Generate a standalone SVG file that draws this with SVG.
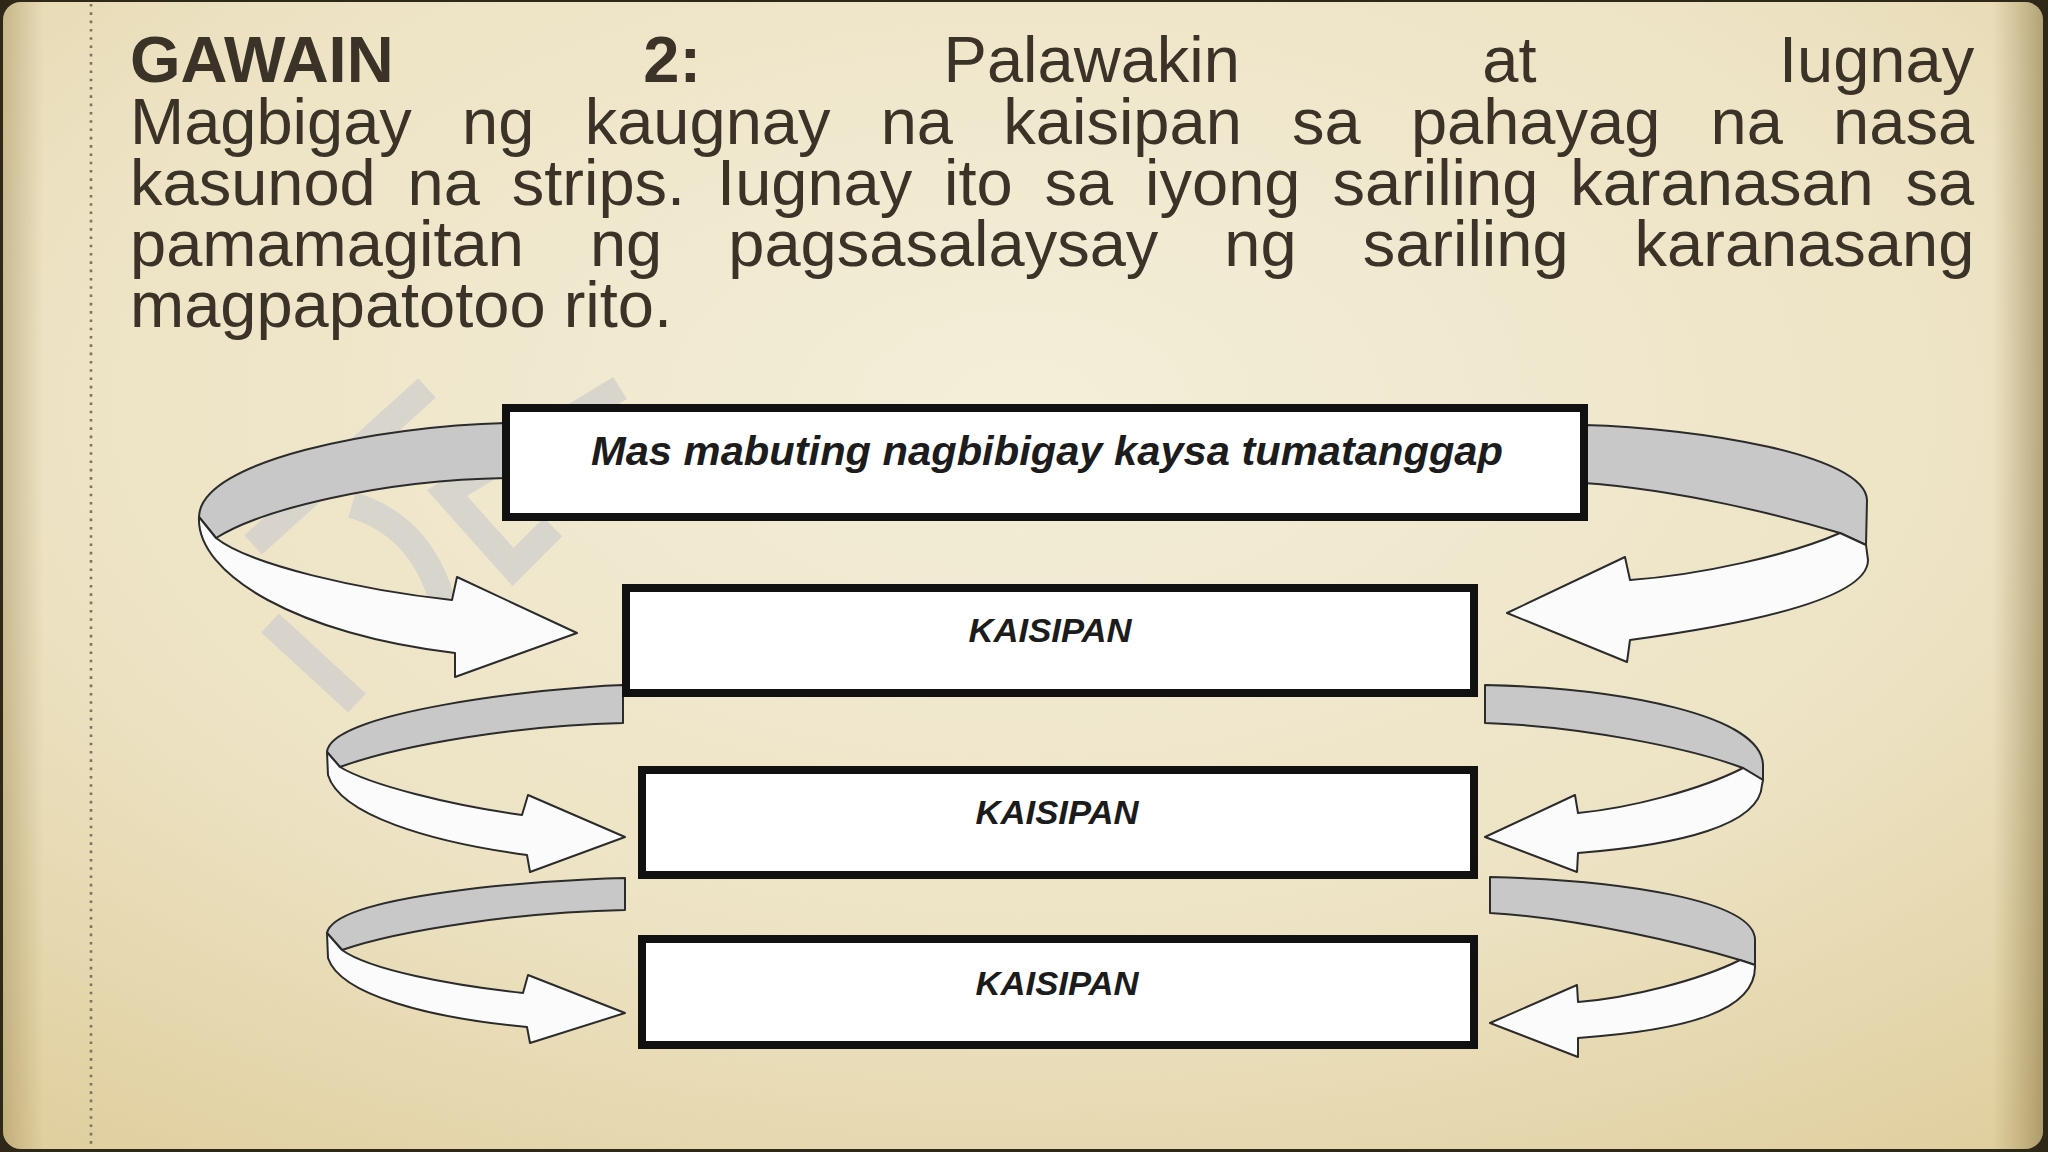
<svg xmlns="http://www.w3.org/2000/svg" width="2048" height="1152" viewBox="0 0 2048 1152">
<defs>
<radialGradient id="pg" cx="50%" cy="35%" r="80%">
<stop offset="0" stop-color="#f4eed9"/>
<stop offset="0.6" stop-color="#ede3c4"/>
<stop offset="1" stop-color="#e0cf9f"/>
</radialGradient>
<linearGradient id="edge" x1="0" y1="0" x2="1" y2="0">
<stop offset="0" stop-color="#8a7236" stop-opacity="0.35"/>
<stop offset="0.02" stop-color="#8a7236" stop-opacity="0"/>
<stop offset="0.975" stop-color="#8a7236" stop-opacity="0"/>
<stop offset="1" stop-color="#6e5a26" stop-opacity="0.45"/>
</linearGradient>
</defs>
<style>
.body{font-family:"Liberation Sans",Arial,sans-serif;font-size:65px;fill:#3b3327}
.b{font-weight:bold}
.box{fill:#ffffff;stroke:#111111;stroke-width:8}
.lbl{font-family:"Liberation Sans",Arial,sans-serif;font-weight:bold;font-style:italic;fill:#1c1c1c}
.back{fill:#c8c8c8;stroke:#2b2b2b;stroke-width:2;stroke-linejoin:round}
.front{fill:#fbfbfb;stroke:#2b2b2b;stroke-width:2;stroke-linejoin:round}
.wm{fill:none;stroke:#d3d1cc;stroke-width:26;opacity:0.85}
</style>
<g id="background">
<rect x="0" y="0" width="2048" height="1152" fill="#2e2818"/>
<rect x="3" y="2" width="2040" height="1147" rx="18" fill="url(#pg)"/>
<rect x="3" y="2" width="2040" height="1147" rx="18" fill="url(#edge)"/>
<line x1="91" y1="4" x2="91" y2="1148" stroke="#7d735e" stroke-width="2.6" stroke-dasharray="2.6 5.7"/>
</g>
<g id="instructions" class="body">
<text y="82"><tspan class="b" x="130">GAWAIN</tspan><tspan class="b" x="643.3">2:</tspan><tspan x="943.6">Palawakin</tspan><tspan x="1482.3">at</tspan><tspan x="1779">Iugnay</tspan></text>
<text y="144"><tspan x="130">Magbigay</tspan><tspan x="462.1">ng</tspan><tspan x="584.7">kaugnay</tspan><tspan x="880.7">na</tspan><tspan x="1003.3">kaisipan</tspan><tspan x="1292">sa</tspan><tspan x="1410.9">pahayag</tspan><tspan x="1710.5">na</tspan><tspan x="1833.1">nasa</tspan></text>
<text y="205"><tspan x="130">kasunod</tspan><tspan x="407.6">na</tspan><tspan x="511.8">strips.</tspan><tspan x="717.1">Iugnay</tspan><tspan x="944.1">ito</tspan><tspan x="1044.6">sa</tspan><tspan x="1145.1">iyong</tspan><tspan x="1332.4">sariling</tspan><tspan x="1570.2">karanasan</tspan><tspan x="1905.6">sa</tspan></text>
<text y="266"><tspan x="130">pamamagitan</tspan><tspan x="589.9">ng</tspan><tspan x="728.3">pagsasalaysay</tspan><tspan x="1224.3">ng</tspan><tspan x="1362.7">sariling</tspan><tspan x="1634.6">karanasang</tspan></text>
<text y="327" x="130">magpapatotoo rito.</text>
</g>
<g id="watermark">
<path class="wm" d="M427,388 L253,545"/>
<path class="wm" d="M352,505 Q420,525 442,600"/>
<path class="wm" d="M270,623 L357,703"/>
<path class="wm" d="M620,388 L447,493 L513,567 L553,527"/>
</g>
<g id="connectors">
<path class="back" d="M506,423 C380,426 200,460 199,517 L216,538 C260,510 380,480 506,478 Z"/>
<path class="front" d="M199,517 C196,575 300,635 455,653 L455,677 L577,633 L457,577 L452,600 C360,590 250,565 216,538 Z"/>
<path class="back" d="M1584,425 C1700,428 1865,455 1867,500 L1866,545 L1840,533 C1780,515 1680,490 1584,483 Z"/>
<path class="front" d="M1840,533 C1790,555 1700,575 1630,580 L1625,557 L1507,613 L1627,662 L1630,640 C1740,625 1868,600 1868,560 L1866,545 Z"/>
<path class="back" d="M623,685 C540,688 330,712 327,752 L340,767 C400,745 520,725 623,723 Z"/>
<path class="front" d="M327,752 L328,775 C340,815 430,842 527,855 L530,872 L625,837 L528,795 L522,815 C450,805 370,785 340,767 Z"/>
<path class="back" d="M625,878 C540,880 335,895 327,933 L342,950 C400,930 520,912 625,910 Z"/>
<path class="front" d="M327,933 L328,958 C340,995 430,1018 527,1027 L530,1043 L625,1013 L528,975 L523,993 C450,985 370,970 342,950 Z"/>
<path class="back" d="M1485,685 C1620,688 1762,715 1763,765 L1763,780 L1743,768 C1690,748 1580,726 1485,723 Z"/>
<path class="front" d="M1743,768 C1700,790 1630,808 1578,813 L1575,795 L1485,837 L1577,872 L1578,853 C1680,845 1760,825 1762,785 L1763,780 Z"/>
<path class="back" d="M1490,877 C1620,880 1755,900 1755,940 L1755,965 L1740,960 C1690,945 1580,918 1490,913 Z"/>
<path class="front" d="M1740,960 C1700,980 1630,998 1578,1002 L1577,985 L1490,1023 L1578,1057 L1578,1038 C1690,1030 1755,1010 1755,967 L1755,965 Z"/>
</g>
<g id="node-top">
<rect class="box" x="506" y="408" width="1078" height="109"/>
<text class="lbl" x="1047" y="465" font-size="40" text-anchor="middle" textLength="912" lengthAdjust="spacingAndGlyphs">Mas mabuting nagbibigay kaysa tumatanggap</text>
</g>
<g id="node-k1">
<rect class="box" x="626" y="588" width="848" height="105"/>
<text class="lbl" x="1050" y="642" font-size="34" text-anchor="middle" textLength="163" lengthAdjust="spacingAndGlyphs">KAISIPAN</text>
</g>
<g id="node-k2">
<rect class="box" x="642" y="770" width="832" height="105"/>
<text class="lbl" x="1057" y="824" font-size="34" text-anchor="middle" textLength="163" lengthAdjust="spacingAndGlyphs">KAISIPAN</text>
</g>
<g id="node-k3">
<rect class="box" x="642" y="939" width="832" height="106"/>
<text class="lbl" x="1057" y="995" font-size="34" text-anchor="middle" textLength="163" lengthAdjust="spacingAndGlyphs">KAISIPAN</text>
</g>
</svg>
